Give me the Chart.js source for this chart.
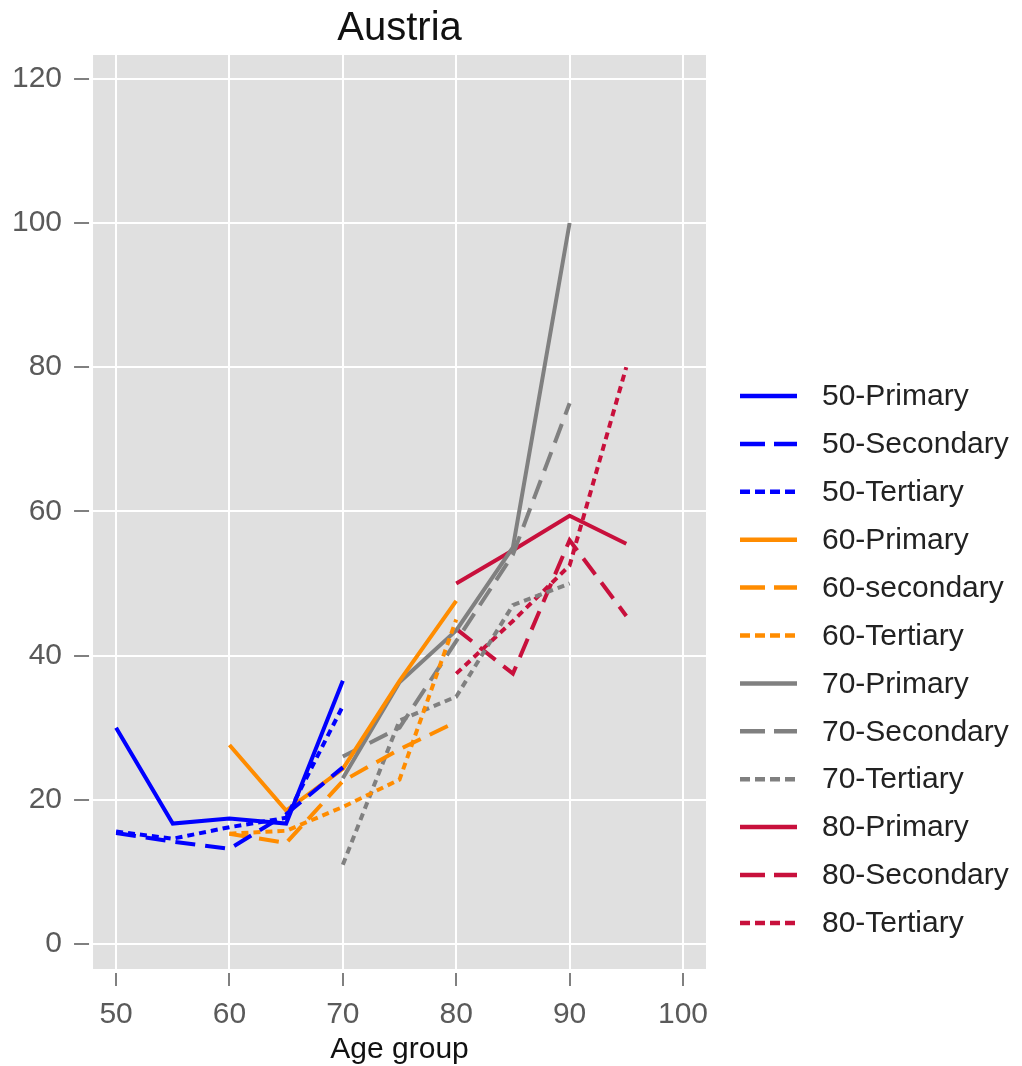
<!DOCTYPE html>
<html>
<head>
<meta charset="utf-8">
<script src="https://cdn.jsdelivr.net/npm/chart.js@4.4.1/dist/chart.umd.min.js"></script>
<style>
  html, body { margin: 0; padding: 0; background: #fff; }
  #wrap { width: 1022px; height: 1066px; position: relative; }
</style>
</head>
<body>
<div id="wrap"><canvas id="lineChart"></canvas></div>
<script>
/* ================= DATA ================= */
const ages50 = [50, 55, 60, 65, 70];
const ages60 = [60, 65, 70, 75, 80];
const ages70 = [70, 75, 80, 85, 90];
const ages80 = [80, 85, 90, 95];

const c50Primary   = [30.0, 16.7, 17.4, 16.7, 36.5];
const c50Secondary = [15.4, 14.2, 13.2, 18.0, 24.5];
const c50Tertiary  = [15.6, 14.6, 16.2, 17.5, 33.0];

const c60Primary   = [27.6, 18.5, 24.3, 36.5, 47.6];
const c60Secondary = [15.3, 14.0, 22.6, 27.0, 30.8];
const c60Tertiary  = [15.3, 15.7, 19.0, 22.8, 45.0];

const c70Primary   = [23.0, 36.3, 43.5, 55.0, 100.0];
const c70Secondary = [26.0, 30.0, 42.0, 54.0, 75.0];
const c70Tertiary  = [11.0, 31.0, 34.3, 47.0, 50.0];

const c80Primary   = [50.0, 54.6, 59.4, 55.5];
const c80Secondary = [43.7, 37.5, 56.0, 45.5];
const c80Tertiary  = [37.5, 44.8, 52.5, 80.0];

const seriesLabels = [
  "50-Primary", "50-Secondary", "50-Tertiary",
  "60-Primary", "60-secondary", "60-Tertiary",
  "70-Primary", "70-Secondary", "70-Tertiary",
  "80-Primary", "80-Secondary", "80-Tertiary"
];
const seriesAges = [ages50, ages50, ages50, ages60, ages60, ages60,
                    ages70, ages70, ages70, ages80, ages80, ages80];
const seriesValues = [c50Primary, c50Secondary, c50Tertiary,
                      c60Primary, c60Secondary, c60Tertiary,
                      c70Primary, c70Secondary, c70Tertiary,
                      c80Primary, c80Secondary, c80Tertiary];

const chartTitle = "Austria";
const xTitle = "Age group";

/* ================= STYLES ================= */
const cohortColors = ["#0000ff", "#ff8c00", "#808080", "#c8103c"];
const dashPlot = [[], [20, 10], [7, 5]];
const dashLegend = [[], [25, 9], [10, 5]];
const FONT = "'Liberation Sans', Arial, Helvetica, sans-serif";

const LEGEND_TOP = 396;
const LEGEND_STEP = 47.9;

const datasets = seriesLabels.map((label, i) => ({
  label: label,
  data: seriesAges[i].map((a, j) => ({ x: a, y: seriesValues[i][j] })),
  borderColor: cohortColors[Math.floor(i / 3)],
  backgroundColor: cohortColors[Math.floor(i / 3)],
  borderDash: dashPlot[i % 3],
  legendDash: dashLegend[i % 3],
  borderWidth: 4,
  borderCapStyle: "butt",
  pointRadius: 0,
  tension: 0,
  fill: false
}));

/* ================= PLUGINS ================= */
const plotBackground = {
  id: "plotBackground",
  beforeDraw(chart) {
    const { ctx, chartArea } = chart;
    ctx.save();
    ctx.fillStyle = "#e0e0e0";
    ctx.fillRect(chartArea.left, chartArea.top,
      chartArea.right - chartArea.left, chartArea.bottom - chartArea.top);
    ctx.restore();
  }
};

const sideLegend = {
  id: "sideLegend",
  afterDraw(chart) {
    const { ctx, chartArea } = chart;
    const x0 = chartArea.right + 34;
    chart.data.datasets.forEach((ds, i) => {
      const y = LEGEND_TOP + i * LEGEND_STEP;
      ctx.save();
      ctx.strokeStyle = ds.borderColor;
      ctx.lineWidth = 4.5;
      ctx.setLineDash(ds.legendDash);
      ctx.beginPath();
      ctx.moveTo(x0, y);
      ctx.lineTo(x0 + 57, y);
      ctx.stroke();
      ctx.setLineDash([]);
      ctx.fillStyle = "#222";
      ctx.font = "30px " + FONT;
      ctx.textBaseline = "middle";
      ctx.fillText(ds.label, x0 + 82, y + 1);
      ctx.restore();
    });
  }
};

/* ================= CHART ================= */
new Chart(document.getElementById("lineChart"), {
  type: "line",
  data: { datasets },
  options: {
    responsive: true,
    maintainAspectRatio: false,
    animation: false,
    layout: { padding: { left: 0, right: 316, top: 0, bottom: 0 } },
    plugins: {
      legend: { display: false },
      tooltip: { enabled: false },
      title: {
        display: true,
        fullSize: false,
        text: chartTitle,
        color: "#111",
        font: { family: FONT, size: 40, weight: "normal" },
        padding: { top: 5, bottom: 2 }
      }
    },
    scales: {
      x: {
        type: "linear",
        min: 47.97,
        max: 102.03,
        border: { display: false },
        grid: {
          color: "#ffffff",
          lineWidth: 2,
          tickColor: "#808080",
          tickWidth: 2,
          tickLength: 17,
          tickBorderDash: [0, 4, 13, 20]
        },
        ticks: {
          stepSize: 10,
          includeBounds: false,
          color: "#5a5a5a",
          padding: 14,
          font: { family: FONT, size: 30, lineHeight: 1 }
        },
        title: {
          display: true,
          text: xTitle,
          color: "#111",
          padding: { top: -11, bottom: 0 },
          font: { family: FONT, size: 30, lineHeight: 1.1 }
        }
      },
      y: {
        type: "linear",
        min: -3.47,
        max: 123.3,
        border: { display: false },
        grid: {
          color: "#ffffff",
          lineWidth: 2,
          tickColor: "#808080",
          tickWidth: 2,
          tickLength: 19,
          tickBorderDash: [15, 20]
        },
        ticks: {
          stepSize: 20,
          includeBounds: false,
          color: "#5a5a5a",
          padding: 12,
          font: { family: FONT, size: 30 }
        }
      }
    }
  },
  plugins: [plotBackground, sideLegend]
});
</script>
</body>
</html>
